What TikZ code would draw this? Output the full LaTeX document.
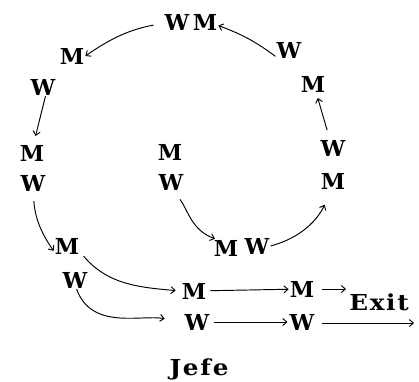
\documentclass[tikz,border=0pt]{standalone}
\usepackage{fontspec}
\setmainfont{DejaVu Serif}
\newfontfamily\spacedfont{DejaVu Serif}[FakeStretch=1.12,LetterSpace=8]
\usetikzlibrary{arrows.meta}
\begin{document}
\begin{tikzpicture}[x=1pt,y=1pt,
  lt/.style={font=\fontsize{22}{23}\selectfont\bfseries, inner sep=1pt},
  wt/.style={font=\spacedfont\fontsize{22}{23}\selectfont\bfseries, inner sep=1pt},
  arr/.style={line width=0.95pt, -{Straight Barb[length=4pt,width=7pt]}}]
\useasboundingbox (0,0) rectangle (419,-381);
\node[lt] (t1) at (177,-22) {W};
\node[lt] (t2) at (205,-22) {M};
\node[lt] (r1) at (289,-50) {W};
\node[lt] (r2) at (313,-84) {M};
\node[lt] (r3) at (333,-148) {W};
\node[lt] (r4) at (333,-181) {M};
\node[lt] (l1) at (72,-56) {M};
\node[lt] (l2) at (43,-87) {W};
\node[lt] (l3) at (32,-153) {M};
\node[lt] (l4) at (33,-183) {W};
\node[lt] (c1) at (170,-152) {M};
\node[lt] (c2) at (171,-182) {W};
\node[lt] (b1) at (226,-248) {M};
\node[lt] (b2) at (257,-246) {W};
\node[lt] (lm) at (67,-246) {M};
\node[lt] (lw) at (75,-280) {W};
\node[lt] (m1) at (194,-291) {M};
\node[lt] (w1) at (197,-322) {W};
\node[lt] (m2) at (302,-289) {M};
\node[lt] (w2) at (302,-322) {W};
\node[wt] (exit) at (379,-302) {Exit};
\node[wt] (jefe) at (199,-369) {Jefe};
\coordinate (end) at (414,-323);
% arrows
\draw[arr] (r1.205) to[bend right=8] (t2.-15);
\draw[arr, shorten <=10pt] (t1.185) to[bend right=12] (l1.east);
\draw[arr, shorten >=8pt] (l2.-75) -- (l3.80);
\draw[arr, shorten <=9pt] (l4.-90) to[out=-85,in=125] (lm.200);
\draw[arr, shorten <=5pt, shorten >=5pt] (lm.-25) to[out=-50,in=175] (m1.west);
\draw[arr, shorten >=19pt] (lw.-80) to[out=-70,in=170] (w1.west);
\draw[arr, shorten <=3pt] (m1) -- (m2);
\draw[arr, shorten <=3pt, shorten >=1pt] (w1) -- (w2);
\draw[arr, shorten <=7pt, shorten >=2pt] (m2.east) -- (exit.west |- m2.east);
\draw[arr, shorten <=6pt] (w2.east |- end) -- (end);
\draw[arr, shorten <=10pt] (c2.-70) to[out=-55,in=160] (b1.140);
\draw[arr, shorten >=16pt] (b2.east) to[out=15,in=-115] (r4.-100);
\draw[arr, shorten <=9pt, shorten >=5pt] (r3.110) -- (r2.-70);
\end{tikzpicture}
\end{document}
